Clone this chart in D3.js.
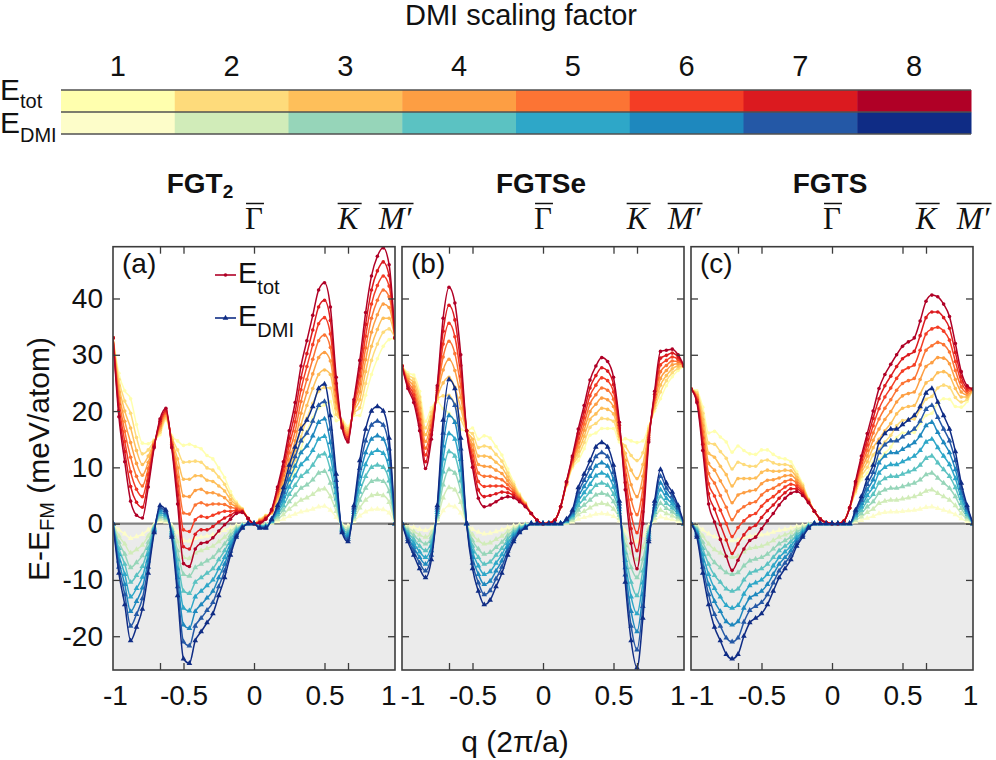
<!DOCTYPE html>
<html><head><meta charset="utf-8">
<script src="https://cdn.jsdelivr.net/npm/d3@7"></script>
<style>
body{margin:0;background:#fff;}
svg{display:block;font-family:"Liberation Sans",Arial,Helvetica,sans-serif;}
</style></head><body>
<svg id="chart" width="996" height="760"></svg>
<script>
// ---------------- data ----------------
const factors = [1, 2, 3, 4, 5, 6, 7, 8];
const totColors = ["#ffffae", "#fedb7b", "#febf5a", "#fd9e43", "#fc7434", "#f43d25", "#db1a1f", "#b00026"];
const dmiColors = ["#fdfdc9", "#d1ecb9", "#96d5b9", "#5bc2c2", "#2ea7c8", "#1e88be", "#2458a6", "#0f2c85"];
const qGrid = [-1, -0.9583, -0.9167, -0.875, -0.8333, -0.7917, -0.75, -0.7083, -0.6667, -0.625,
  -0.5833, -0.5417, -0.5, -0.4583, -0.4167, -0.375, -0.3333, -0.2917, -0.25, -0.2083,
  -0.1667, -0.125, -0.0833, -0.0417, 0, 0.0417, 0.0833, 0.125, 0.1667, 0.2083,
  0.25, 0.2917, 0.3333, 0.375, 0.4167, 0.4583, 0.5, 0.5417, 0.5833, 0.625,
  0.6667, 0.7083, 0.75, 0.7917, 0.8333, 0.875, 0.9167, 0.9583, 1];

// (a) FGT2
const totA = [
 [33,26.7,23.6,22.2,17.6,14.3,14.2,14.9,15.8,18.4, 15.6,14.7,13.9,14.1,13.7,13.3,12.1,11.5,9.9,8.2, 5.7,3.9,2.7,0.9,0,0.8,1.5,1.8,3.7,5.4, 7.4,9.6,13.3,16.4,18.8,20.5,21.1,21.7,18.3,18.4, 17.3,19.2,19.2,22.8,26.5,29.3,31.5,32.7,33],
 [33,25.6,21.8,19.6,15.3,12.4,13.1,14.7,16.2,18.7, 15.3,13.1,10.9,11.0,11.1,10.9,9.9,9.5,8.3,7.0, 5.0,3.6,2.6,0.9,0,0.7,1.4,1.9,4.1,6.2, 8.7,11.3,15.4,18.7,21.4,23.5,24.2,24.1,19.4,18.2, 16.9,19.6,20.6,24.9,29.0,31.9,34.0,34.6,33],
 [33,24.5,20.0,17.0,13.0,10.5,12.0,14.5,16.6,19.0, 15.0,11.5,7.9,7.9,8.5,8.5,7.7,7.5,6.7,5.8, 4.3,3.3,2.5,0.9,0,0.6,1.3,2.0,4.5,7.0, 10.0,13.0,17.5,21.0,24.0,26.5,27.3,26.5,20.5,18.0, 16.5,20.0,22.0,27.0,31.5,34.5,36.5,36.5,33],
 [33,23.4,18.2,14.4,10.7,8.6,10.9,14.3,17.0,19.3, 14.7,9.9,4.9,4.8,5.9,6.1,5.5,5.5,5.1,4.6, 3.6,3.0,2.4,0.9,0,0.5,1.2,2.1,4.9,7.8, 11.3,14.7,19.6,23.3,26.6,29.5,30.4,28.9,21.6,17.8, 16.1,20.4,23.4,29.1,34.0,37.1,39.0,38.4,33],
 [33,22.3,16.4,11.8,8.4,6.7,9.8,14.1,17.4,19.6, 14.4,8.3,1.9,1.7,3.3,3.7,3.3,3.5,3.5,3.4, 2.9,2.7,2.3,0.9,0,0.4,1.1,2.2,5.3,8.6, 12.6,16.4,21.7,25.6,29.2,32.5,33.5,31.3,22.7,17.6, 15.7,20.8,24.8,31.2,36.5,39.7,41.5,40.3,33],
 [33,21.2,14.6,9.2,6.1,4.8,8.7,13.9,17.8,19.9, 14.1,6.7,-1.1,-1.4,0.7,1.3,1.1,1.5,1.9,2.2, 2.2,2.4,2.2,0.9,0,0.3,1.0,2.3,5.7,9.4, 13.9,18.1,23.8,27.9,31.8,35.5,36.6,33.7,23.8,17.4, 15.3,21.2,26.2,33.3,39.0,42.3,44.0,42.2,33],
 [33,20.1,12.8,6.6,3.8,2.9,7.6,13.7,18.2,20.2, 13.8,5.1,-4.1,-4.5,-1.9,-1.1,-1.1,-0.5,0.3,1.0, 1.5,2.1,2.1,0.9,0,0.2,0.9,2.4,6.1,10.2, 15.2,19.8,25.9,30.2,34.4,38.5,39.7,36.1,24.9,17.2, 14.9,21.6,27.6,35.4,41.5,44.9,46.5,44.1,33],
 [33,19.0,11.0,4.0,1.5,1.0,6.5,13.5,18.6,20.5, 13.5,3.5,-7.1,-7.6,-4.5,-3.5,-3.3,-2.5,-1.3,-0.2, 0.8,1.8,2.0,0.9,0,0.1,0.8,2.5,6.5,11.0, 16.5,21.5,28.0,32.5,37.0,41.5,42.8,38.5,26.0,17.0, 14.5,22.0,29.0,37.5,44.0,47.5,49.0,46.0,33]
];
const dmiA = [
 [0,-1.1,-1.8,-2.6,-2.3,-1.9,-1.1,-0.2,0.4,0.3, -0.3,-1.6,-3.0,-3.1,-2.6,-2.4,-2.2,-2.0,-1.6,-1.2, -0.7,-0.3,-0.1,0,0,-0.1,-0.1,0.1,0.4,0.8, 1.3,1.7,2.1,2.3,2.6,3.0,3.1,2.4,1.1,-0.2, -0.4,0.4,1.4,2.1,2.5,2.6,2.5,1.9,0],
 [0,-2.2,-3.6,-5.2,-4.6,-3.8,-2.2,-0.4,0.8,0.6, -0.6,-3.2,-6.0,-6.2,-5.2,-4.8,-4.4,-4.0,-3.2,-2.4, -1.4,-0.6,-0.2,0,0,-0.2,-0.2,0.2,0.8,1.6, 2.6,3.4,4.2,4.6,5.2,6.0,6.2,4.8,2.2,-0.4, -0.8,0.8,2.8,4.2,5.0,5.2,5.0,3.8,0],
 [0,-3.3,-5.4,-7.8,-6.9,-5.7,-3.3,-0.6,1.2,0.9, -0.9,-4.8,-9.0,-9.3,-7.8,-7.2,-6.6,-6.0,-4.8,-3.6, -2.1,-0.9,-0.3,0,0,-0.3,-0.3,0.3,1.2,2.4, 3.9,5.1,6.3,6.9,7.8,9.0,9.3,7.2,3.3,-0.6, -1.2,1.2,4.2,6.3,7.5,7.8,7.5,5.7,0],
 [0,-4.4,-7.2,-10.4,-9.2,-7.6,-4.4,-0.8,1.6,1.2, -1.2,-6.4,-12.0,-12.4,-10.4,-9.6,-8.8,-8.0,-6.4,-4.8, -2.8,-1.2,-0.4,0,0,-0.4,-0.4,0.4,1.6,3.2, 5.2,6.8,8.4,9.2,10.4,12.0,12.4,9.6,4.4,-0.8, -1.6,1.6,5.6,8.4,10.0,10.4,10.0,7.6,0],
 [0,-5.5,-9.0,-13.0,-11.5,-9.5,-5.5,-1.0,2.0,1.5, -1.5,-8.0,-15.0,-15.5,-13.0,-12.0,-11.0,-10.0,-8.0,-6.0, -3.5,-1.5,-0.5,0,0,-0.5,-0.5,0.5,2.0,4.0, 6.5,8.5,10.5,11.5,13.0,15.0,15.5,12.0,5.5,-1.0, -2.0,2.0,7.0,10.5,12.5,13.0,12.5,9.5,0],
 [0,-6.6,-10.8,-15.6,-13.8,-11.4,-6.6,-1.2,2.4,1.8, -1.8,-9.6,-18.0,-18.6,-15.6,-14.4,-13.2,-12.0,-9.6,-7.2, -4.2,-1.8,-0.6,0,0,-0.6,-0.6,0.6,2.4,4.8, 7.8,10.2,12.6,13.8,15.6,18.0,18.6,14.4,6.6,-1.2, -2.4,2.4,8.4,12.6,15.0,15.6,15.0,11.4,0],
 [0,-7.7,-12.6,-18.2,-16.1,-13.3,-7.7,-1.4,2.8,2.1, -2.1,-11.2,-21.0,-21.7,-18.2,-16.8,-15.4,-14.0,-11.2,-8.4, -4.9,-2.1,-0.7,0,0,-0.7,-0.7,0.7,2.8,5.6, 9.1,11.9,14.7,16.1,18.2,21.0,21.7,16.8,7.7,-1.4, -2.8,2.8,9.8,14.7,17.5,18.2,17.5,13.3,0],
 [0,-8.8,-14.4,-20.8,-18.4,-15.2,-8.8,-1.6,3.2,2.4, -2.4,-12.8,-24.0,-24.8,-20.8,-19.2,-17.6,-16.0,-12.8,-9.6, -5.6,-2.4,-0.8,0,0,-0.8,-0.8,0.8,3.2,6.4, 10.4,13.6,16.8,18.4,20.8,24.0,24.8,19.2,8.8,-1.6, -3.2,3.2,11.2,16.8,20.0,20.8,20.0,15.2,0]
];

// (b) FGTSe
const totB = [
 [28,26.8,26.4,23.5,18.2,20.6,21.7,20.4,19.6,18.2, 16.7,16.5,17.0,15.0,15.6,15.2,13.7,12.2,9.7,7.4, 5.3,3.7,1.8,0.6,0,0.1,0.6,3.0,6.8,9.9, 11.2,13.3,15.7,16.1,16.9,16.9,16.9,14.5,15.1,14.7, 14.4,14.7,17.3,20.0,22.2,24.5,26.1,27.2,28],
 [28,26.4,25.7,22.5,17.0,19.8,22.1,22.7,22.8,21.2, 18.6,16.5,16.0,13.5,13.8,13.5,12.3,11.1,9.0,7.0, 5.1,3.6,1.8,0.6,0,0.1,0.6,3.0,6.9,10.2, 12.0,14.4,17.1,17.8,18.7,18.6,18.2,15.0,13.8,12.1, 11.2,12.6,16.9,20.5,23.4,25.4,26.8,27.6,28],
 [28,26.0,25.0,21.5,15.8,19.0,22.5,25.0,26.0,24.2, 20.5,16.5,15.0,12.0,12.0,11.8,10.9,10.0,8.3,6.6, 4.9,3.5,1.8,0.6,0,0.1,0.6,3.0,7.0,10.5, 12.8,15.5,18.5,19.5,20.5,20.3,19.5,15.5,12.5,9.5, 8.0,10.5,16.5,21.0,24.6,26.3,27.5,28.0,28],
 [28,25.6,24.3,20.5,14.6,18.2,22.9,27.3,29.2,27.2, 22.4,16.5,14.0,10.5,10.2,10.1,9.5,8.9,7.6,6.2, 4.7,3.4,1.8,0.6,0,0.1,0.6,3.0,7.1,10.8, 13.6,16.6,19.9,21.2,22.3,22.0,20.8,16.0,11.2,6.9, 4.8,8.4,16.1,21.5,25.8,27.2,28.2,28.4,28],
 [28,25.2,23.6,19.5,13.4,17.4,23.3,29.6,32.4,30.2, 24.3,16.5,13.0,9.0,8.4,8.4,8.1,7.8,6.9,5.8, 4.5,3.3,1.8,0.6,0,0.1,0.6,3.0,7.2,11.1, 14.4,17.7,21.3,22.9,24.1,23.7,22.1,16.5,9.9,4.3, 1.6,6.3,15.7,22.0,27.0,28.1,28.9,28.8,28],
 [28,24.8,22.9,18.5,12.2,16.6,23.7,31.9,35.6,33.2, 26.2,16.5,12.0,7.5,6.6,6.7,6.7,6.7,6.2,5.4, 4.3,3.2,1.8,0.6,0,0.1,0.6,3.0,7.3,11.4, 15.2,18.8,22.7,24.6,25.9,25.4,23.4,17.0,8.6,1.7, -1.6,4.2,15.3,22.5,28.2,29.0,29.6,29.2,28],
 [28,24.4,22.2,17.5,11.0,15.8,24.1,34.2,38.8,36.2, 28.1,16.5,11.0,6.0,4.8,5.0,5.3,5.6,5.5,5.0, 4.1,3.1,1.8,0.6,0,0.1,0.6,3.0,7.4,11.7, 16.0,19.9,24.1,26.3,27.7,27.1,24.7,17.5,7.3,-0.9, -4.8,2.1,14.9,23.0,29.4,29.9,30.3,29.6,28],
 [28,24.0,21.5,16.5,9.8,15.0,24.5,36.5,42.0,39.2, 30.0,16.5,10.0,4.5,3.0,3.3,3.9,4.5,4.8,4.6, 3.9,3.0,1.8,0.6,0,0.1,0.6,3.0,7.5,12.0, 16.8,21.0,25.5,28.0,29.5,28.8,26.0,18.0,6.0,-3.5, -8.0,0.0,14.5,23.5,30.6,30.8,31.0,30.0,28]
];
const dmiB = [
 [0,-0.4,-0.7,-1.0,-1.2,-0.8,0.4,2.3,3.2,3.0, 1.9,0,-1.0,-1.5,-1.8,-1.7,-1.4,-1.1,-0.7,-0.4, -0.2,-0.1,0,0,0,0,0,0,0.1,0.3, 0.8,1.1,1.4,1.7,1.8,1.7,1.3,0.5,-1.3,-2.6, -3.2,-2.1,-0.4,0.5,1.2,0.9,0.7,0.4,0],
 [0,-0.8,-1.4,-2.0,-2.4,-1.6,0.8,4.6,6.4,6.0, 3.8,0,-2.0,-3.0,-3.6,-3.4,-2.8,-2.2,-1.4,-0.8, -0.4,-0.2,0,0,0,0,0,0,0.2,0.6, 1.6,2.2,2.8,3.4,3.6,3.4,2.6,1.0,-2.6,-5.2, -6.4,-4.2,-0.8,1.0,2.4,1.8,1.4,0.8,0],
 [0,-1.2,-2.1,-3.0,-3.6,-2.4,1.2,6.9,9.6,9.0, 5.7,0,-3.0,-4.5,-5.4,-5.1,-4.2,-3.3,-2.1,-1.2, -0.6,-0.3,0,0,0,0,0,0,0.3,0.9, 2.4,3.3,4.2,5.1,5.4,5.1,3.9,1.5,-3.9,-7.8, -9.6,-6.3,-1.2,1.5,3.6,2.7,2.1,1.2,0],
 [0,-1.6,-2.8,-4.0,-4.8,-3.2,1.6,9.2,12.8,12.0, 7.6,0,-4.0,-6.0,-7.2,-6.8,-5.6,-4.4,-2.8,-1.6, -0.8,-0.4,0,0,0,0,0,0,0.4,1.2, 3.2,4.4,5.6,6.8,7.2,6.8,5.2,2.0,-5.2,-10.4, -12.8,-8.4,-1.6,2.0,4.8,3.6,2.8,1.6,0],
 [0,-2.0,-3.5,-5.0,-6.0,-4.0,2.0,11.5,16.0,15.0, 9.5,0,-5.0,-7.5,-9.0,-8.5,-7.0,-5.5,-3.5,-2.0, -1.0,-0.5,0,0,0,0,0,0,0.5,1.5, 4.0,5.5,7.0,8.5,9.0,8.5,6.5,2.5,-6.5,-13.0, -16.0,-10.5,-2.0,2.5,6.0,4.5,3.5,2.0,0],
 [0,-2.4,-4.2,-6.0,-7.2,-4.8,2.4,13.8,19.2,18.0, 11.4,0,-6.0,-9.0,-10.8,-10.2,-8.4,-6.6,-4.2,-2.4, -1.2,-0.6,0,0,0,0,0,0,0.6,1.8, 4.8,6.6,8.4,10.2,10.8,10.2,7.8,3.0,-7.8,-15.6, -19.2,-12.6,-2.4,3.0,7.2,5.4,4.2,2.4,0],
 [0,-2.8,-4.9,-7.0,-8.4,-5.6,2.8,16.1,22.4,21.0, 13.3,0,-7.0,-10.5,-12.6,-11.9,-9.8,-7.7,-4.9,-2.8, -1.4,-0.7,0,0,0,0,0,0,0.7,2.1, 5.6,7.7,9.8,11.9,12.6,11.9,9.1,3.5,-9.1,-18.2, -22.4,-14.7,-2.8,3.5,8.4,6.3,4.9,2.8,0],
 [0,-3.2,-5.6,-8.0,-9.6,-6.4,3.2,18.4,25.6,24.0, 15.2,0,-8.0,-12.0,-14.4,-13.6,-11.2,-8.8,-5.6,-3.2, -1.6,-0.8,0,0,0,0,0,0,0.8,2.4, 6.4,8.8,11.2,13.6,14.4,13.6,10.4,4.0,-10.4,-20.8, -25.6,-16.8,-3.2,4.0,9.6,7.2,5.6,3.2,0]
];

// (c) FGTS
const totC = [
 [23.9,23.6,20.7,16.1,16.4,15.4,14.5,12.7,13.8,13.0, 12.4,12.3,13.1,13.1,12.3,11.7,11.5,11.0,9.2,7.1, 4.4,2.2,0.8,0.2,0,0,0.4,2.8,5.4,7.8, 9.0,10.9,11.4,12.5,13.6,15.3,16.1,16.2,16.2,17.8, 19.2,19.6,21.4,22.2,22.1,20.8,20.7,21.7,23.9],
 [23.9,23.3,19.6,14.3,14.1,12.8,11.6,9.7,10.9,10.5, 10.2,10.2,11.1,11.3,10.8,10.5,10.5,10.2,8.7,6.8, 4.3,2.2,0.8,0.2,0,0,0.4,2.8,5.7,8.4, 10.0,12.2,13.2,14.5,15.7,17.4,18.3,18.5,18.6,20.4, 22.1,22.6,24.1,24.6,24.2,22.4,21.6,22.1,23.9],
 [23.9,23.0,18.5,12.5,11.8,10.2,8.7,6.7,8.0,8.0, 8.0,8.1,9.1,9.5,9.3,9.3,9.5,9.4,8.2,6.5, 4.2,2.2,0.8,0.2,0,0,0.4,2.8,6.0,9.0, 11.0,13.5,15.0,16.5,17.8,19.5,20.5,20.8,21.0,23.0, 25.0,25.6,26.8,27.0,26.3,24.0,22.5,22.5,23.9],
 [23.9,22.7,17.4,10.7,9.5,7.6,5.8,3.7,5.1,5.5, 5.8,6.0,7.1,7.7,7.8,8.1,8.5,8.6,7.7,6.2, 4.1,2.2,0.8,0.2,0,0,0.4,2.8,6.3,9.6, 12.0,14.8,16.8,18.5,19.9,21.6,22.7,23.1,23.4,25.6, 27.9,28.6,29.5,29.4,28.4,25.6,23.4,22.9,23.9],
 [23.9,22.4,16.3,8.9,7.2,5.0,2.9,0.7,2.2,3.0, 3.6,3.9,5.1,5.9,6.3,6.9,7.5,7.8,7.2,5.9, 4.0,2.2,0.8,0.2,0,0,0.4,2.8,6.6,10.2, 13.0,16.1,18.6,20.5,22.0,23.7,24.9,25.4,25.8,28.2, 30.8,31.6,32.2,31.8,30.5,27.2,24.3,23.3,23.9],
 [23.9,22.1,15.2,7.1,4.9,2.4,0.0,-2.3,-0.7,0.5, 1.4,1.8,3.1,4.1,4.8,5.7,6.5,7.0,6.7,5.6, 3.9,2.2,0.8,0.2,0,0,0.4,2.8,6.9,10.8, 14.0,17.4,20.4,22.5,24.1,25.8,27.1,27.7,28.2,30.8, 33.7,34.6,34.9,34.2,32.6,28.8,25.2,23.7,23.9],
 [23.9,21.8,14.1,5.3,2.6,-0.2,-2.9,-5.3,-3.6,-2.0, -0.8,-0.3,1.1,2.3,3.3,4.5,5.5,6.2,6.2,5.3, 3.8,2.2,0.8,0.2,0,0,0.4,2.8,7.2,11.4, 15.0,18.7,22.2,24.5,26.2,27.9,29.3,30.0,30.6,33.4, 36.6,37.6,37.6,36.6,34.7,30.4,26.1,24.1,23.9],
 [23.9,21.5,13.0,3.5,0.3,-2.8,-5.8,-8.3,-6.5,-4.5, -3.0,-2.4,-0.9,0.5,1.8,3.3,4.5,5.4,5.7,5.0, 3.7,2.2,0.8,0.2,0,0,0.4,2.8,7.5,12.0, 16.0,20.0,24.0,26.5,28.3,30.0,31.5,32.3,33.0,36.0, 39.5,40.6,40.3,39.0,36.8,32.0,27.0,24.5,23.9]
];
const dmiC = [
 [0,-0.3,-1.1,-1.8,-2.3,-2.6,-2.9,-3.0,-2.9,-2.5, -2.2,-2.1,-2.0,-1.8,-1.5,-1.2,-1.0,-0.8,-0.5,-0.3, -0.1,0,0,0,0,0,0,0,0.3,0.6, 1.0,1.3,1.8,2.0,2.1,2.1,2.2,2.3,2.4,2.6, 2.9,3.0,2.7,2.4,2.1,1.6,0.9,0.4,0],
 [0,-0.6,-2.2,-3.6,-4.6,-5.2,-5.8,-6.0,-5.8,-5.0, -4.4,-4.2,-4.0,-3.6,-3.0,-2.4,-2.0,-1.6,-1.0,-0.6, -0.2,0,0,0,0,0,0,0,0.6,1.2, 2.0,2.6,3.6,4.0,4.2,4.2,4.4,4.6,4.8,5.2, 5.8,6.0,5.4,4.8,4.2,3.2,1.8,0.8,0],
 [0,-0.9,-3.3,-5.4,-6.9,-7.8,-8.7,-9.0,-8.7,-7.5, -6.6,-6.3,-6.0,-5.4,-4.5,-3.6,-3.0,-2.4,-1.5,-0.9, -0.3,0,0,0,0,0,0,0,0.9,1.8, 3.0,3.9,5.4,6.0,6.3,6.3,6.6,6.9,7.2,7.8, 8.7,9.0,8.1,7.2,6.3,4.8,2.7,1.2,0],
 [0,-1.2,-4.4,-7.2,-9.2,-10.4,-11.6,-12.0,-11.6,-10.0, -8.8,-8.4,-8.0,-7.2,-6.0,-4.8,-4.0,-3.2,-2.0,-1.2, -0.4,0,0,0,0,0,0,0,1.2,2.4, 4.0,5.2,7.2,8.0,8.4,8.4,8.8,9.2,9.6,10.4, 11.6,12.0,10.8,9.6,8.4,6.4,3.6,1.6,0],
 [0,-1.5,-5.5,-9.0,-11.5,-13.0,-14.5,-15.0,-14.5,-12.5, -11.0,-10.5,-10.0,-9.0,-7.5,-6.0,-5.0,-4.0,-2.5,-1.5, -0.5,0,0,0,0,0,0,0,1.5,3.0, 5.0,6.5,9.0,10.0,10.5,10.5,11.0,11.5,12.0,13.0, 14.5,15.0,13.5,12.0,10.5,8.0,4.5,2.0,0],
 [0,-1.8,-6.6,-10.8,-13.8,-15.6,-17.4,-18.0,-17.4,-15.0, -13.2,-12.6,-12.0,-10.8,-9.0,-7.2,-6.0,-4.8,-3.0,-1.8, -0.6,0,0,0,0,0,0,0,1.8,3.6, 6.0,7.8,10.8,12.0,12.6,12.6,13.2,13.8,14.4,15.6, 17.4,18.0,16.2,14.4,12.6,9.6,5.4,2.4,0],
 [0,-2.1,-7.7,-12.6,-16.1,-18.2,-20.3,-21.0,-20.3,-17.5, -15.4,-14.7,-14.0,-12.6,-10.5,-8.4,-7.0,-5.6,-3.5,-2.1, -0.7,0,0,0,0,0,0,0,2.1,4.2, 7.0,9.1,12.6,14.0,14.7,14.7,15.4,16.1,16.8,18.2, 20.3,21.0,18.9,16.8,14.7,11.2,6.3,2.8,0],
 [0,-2.4,-8.8,-14.4,-18.4,-20.8,-23.2,-24.0,-23.2,-20.0, -17.6,-16.8,-16.0,-14.4,-12.0,-9.6,-8.0,-6.4,-4.0,-2.4, -0.8,0,0,0,0,0,0,0,2.4,4.8, 8.0,10.4,14.4,16.0,16.8,16.8,17.6,18.4,19.2,20.8, 23.2,24.0,21.6,19.2,16.8,12.8,7.2,3.2,0]
];

const panelTitles = ["FGT", "FGTSe", "FGTS"];
const panelSubs = ["2", "", ""];
const panelLetters = ["(a)", "(b)", "(c)"];
const yTickValues = [-20, -10, 0, 10, 20, 30, 40];
const xTickMarks = [-0.6667, -0.5, 0, 0.5, 0.6667];
const xTickLabels = [-1, -0.5, 0, 0.5, 1];
const symLabels = [{q: 0, main: "Γ", italic: false}, {q: 0.6667, main: "K", italic: true}, {q: 1, main: "M′", italic: true}];

// ---------------- layout ----------------
const svg = d3.select("#chart");
const defs = svg.append("defs");
const panelX0 = [113, 402, 691];
const panelW = 282;
const yTop = 246.7, yBot = 670;
const titleX = [200, 541, 830];
const y = d3.scaleLinear().domain([-26, 49.2]).range([yBot, yTop]);
const frameColor = "#3c3c3c";
const txtColor = "#111";

// colorbar
const cbX0 = 61, cbX1 = 971, cbRowTop = [90, 112], cbRowH = 22;
const cbx = d3.scaleBand().domain(factors).range([cbX0, cbX1]).padding(0);
svg.append("text").attr("x", 521).attr("y", 25).attr("text-anchor", "middle")
  .attr("font-size", 29).attr("fill", txtColor).text("DMI scaling factor");
svg.append("g").selectAll("text").data(factors).join("text")
  .attr("x", d => cbx(d) + cbx.bandwidth() / 2).attr("y", 76)
  .attr("text-anchor", "middle").attr("font-size", 29).attr("fill", txtColor).text(d => d);
[totColors, dmiColors].forEach((cols, r) => {
  svg.append("g").selectAll("rect").data(factors).join("rect")
    .attr("x", d => cbx(d)).attr("y", cbRowTop[r]).attr("width", cbx.bandwidth() + 0.5).attr("height", cbRowH)
    .attr("fill", (d, i) => cols[i]);
});
[90, 112, 134].forEach(yy => svg.append("line").attr("x1", cbX0).attr("x2", cbX1).attr("y1", yy).attr("y2", yy)
  .attr("stroke", "#505050").attr("stroke-width", 1.5));
function subText(parent, x, yb, main, sub, size, subSize, dy, anchor) {
  const t = parent.append("text").attr("x", x).attr("y", yb).attr("font-size", size).attr("fill", txtColor)
    .attr("text-anchor", anchor || "start");
  t.append("tspan").text(main);
  t.append("tspan").attr("font-size", subSize).attr("dy", dy).text(sub);
  return t;
}
subText(svg, 0, 100, "E", "tot", 30, 20, 8);
subText(svg, 0, 133, "E", "DMI", 30, 20, 9);

// panels
const panels = [
  {tot: totA, dmi: dmiA},
  {tot: totB, dmi: dmiB},
  {tot: totC, dmi: dmiC}
];
const tri = d3.symbol().type(d3.symbolTriangle).size(14);

panels.forEach((p, pi) => {
  const x0 = panelX0[pi], x1 = x0 + panelW;
  const x = d3.scaleLinear().domain([-1, 1]).range([x0, x1]);
  const g = svg.append("g");
  const cid = "clip" + pi;
  defs.append("clipPath").attr("id", cid).append("rect")
    .attr("x", x0).attr("y", yTop).attr("width", panelW).attr("height", yBot - yTop);

  g.append("rect").attr("x", x0).attr("y", yTop).attr("width", panelW).attr("height", yBot - yTop).attr("fill", "#fff");
  g.append("rect").attr("x", x0).attr("y", y(0)).attr("width", panelW).attr("height", yBot - y(0)).attr("fill", "#ebebeb");
  g.append("line").attr("x1", x0).attr("x2", x1).attr("y1", y(0)).attr("y2", y(0))
    .attr("stroke", "#808080").attr("stroke-width", 2.2);

  const plot = g.append("g").attr("clip-path", `url(#${cid})`);
  const line = d3.line().x((d, i) => x(qGrid[i])).y(d => y(d)).curve(d3.curveMonotoneX);
  factors.forEach((f, k) => {
    // E_tot
    const gt = plot.append("g");
    gt.append("path").attr("d", line(p.tot[k])).attr("fill", "none")
      .attr("stroke", totColors[k]).attr("stroke-width", 1.5);
    gt.selectAll("circle").data(p.tot[k]).join("circle")
      .attr("cx", (d, i) => x(qGrid[i])).attr("cy", d => y(d)).attr("r", 1.8).attr("fill", totColors[k]);
    // E_DMI
    const gd = plot.append("g");
    gd.append("path").attr("d", line(p.dmi[k])).attr("fill", "none")
      .attr("stroke", dmiColors[k]).attr("stroke-width", 1.5);
    gd.selectAll("path.m").data(p.dmi[k]).join("path").attr("class", "m")
      .attr("transform", (d, i) => `translate(${x(qGrid[i])},${y(d)})`).attr("d", tri).attr("fill", dmiColors[k]);
  });

  // axes (ticks inside)
  const styleAxis = sel => { sel.select(".domain").remove(); sel.selectAll("line").attr("stroke", frameColor).attr("stroke-width", 1.3); };
  g.append("g").attr("transform", `translate(0,${yBot})`)
    .call(d3.axisBottom(x).tickValues(xTickMarks).tickSizeInner(-7).tickSizeOuter(0).tickFormat(""))
    .call(styleAxis);
  g.append("g").attr("transform", `translate(0,${yTop})`)
    .call(d3.axisTop(x).tickValues(xTickMarks).tickSizeInner(-7).tickSizeOuter(0).tickFormat(""))
    .call(styleAxis);
  g.append("g").attr("transform", `translate(${x1},0)`)
    .call(d3.axisRight(y).tickValues(yTickValues).tickSizeInner(-7).tickSizeOuter(0).tickFormat(""))
    .call(styleAxis);
  const ly = g.append("g").attr("transform", `translate(${x0},0)`)
    .call(d3.axisLeft(y).tickValues(yTickValues).tickSizeInner(-7).tickSizeOuter(0).tickPadding(10)
      .tickFormat(pi === 0 ? (d => String(d)) : ""))
    .call(styleAxis);
  ly.selectAll("text").attr("font-size", 28).attr("fill", txtColor).attr("font-family", null);

  const lx = g.append("g").attr("transform", `translate(0,${yBot})`)
    .call(d3.axisBottom(x).tickValues(xTickLabels).tickSize(0).tickPadding(15).tickFormat(d => String(d)));
  lx.select(".domain").remove();
  lx.selectAll("text").attr("font-size", 28).attr("fill", txtColor).attr("font-family", null)
    .attr("text-anchor", d => d === -1 ? (pi === 0 ? "middle" : "start") : (d === 1 ? (pi === 2 ? "middle" : "end") : "middle"))
    .attr("dx", d => d === -1 ? (pi === 0 ? 2 : -2) : (d === 1 ? (pi === 2 ? -3 : 1) : 0));

  g.append("rect").attr("x", x0).attr("y", yTop).attr("width", panelW).attr("height", yBot - yTop)
    .attr("fill", "none").attr("stroke", frameColor).attr("stroke-width", 1.6);

  // panel letter
  g.append("text").attr("x", x0 + 9).attr("y", 273).attr("font-size", 28).attr("fill", txtColor).text(panelLetters[pi]);

  // title
  const tt = g.append("text").attr("x", titleX[pi]).attr("y", 193).attr("text-anchor", "middle")
    .attr("font-size", 28).attr("font-weight", "bold").attr("fill", txtColor);
  tt.append("tspan").text(panelTitles[pi]);
  if (panelSubs[pi]) tt.append("tspan").attr("font-size", 19).attr("dy", 5).text(panelSubs[pi]);

  // high symmetry labels with overline
  symLabels.forEach(s => {
    const t = g.append("text").attr("x", x(s.q)).attr("y", 229).attr("text-anchor", "middle")
      .attr("font-family", "'Liberation Serif','DejaVu Serif',serif").attr("font-size", 31)
      .attr("font-style", s.italic ? "italic" : "normal").attr("fill", txtColor).text(s.main);
    const bb = t.node().getBBox();
    g.append("line").attr("x1", bb.x + 1).attr("x2", bb.x + bb.width + 1).attr("y1", 203.5).attr("y2", 203.5)
      .attr("stroke", txtColor).attr("stroke-width", 1.5);
  });
});

// legend in panel (a)
const lg = svg.append("g");
lg.append("line").attr("x1", 215).attr("x2", 236).attr("y1", 275).attr("y2", 275).attr("stroke", totColors[7]).attr("stroke-width", 1.6);
lg.append("circle").attr("cx", 225.5).attr("cy", 275).attr("r", 1.8).attr("fill", totColors[7]);
subText(lg, 238, 283, "E", "tot", 29, 20, 11);
lg.append("line").attr("x1", 215).attr("x2", 236).attr("y1", 318).attr("y2", 318).attr("stroke", dmiColors[7]).attr("stroke-width", 1.6);
lg.append("path").attr("transform", "translate(225.5,318)").attr("d", tri).attr("fill", dmiColors[7]);
subText(lg, 238, 326, "E", "DMI", 29, 20, 11);

// axis labels
svg.append("text").attr("x", 515).attr("y", 752).attr("text-anchor", "middle").attr("font-size", 30)
  .attr("fill", txtColor).text("q (2π/a)");
const yl = svg.append("text").attr("transform", "translate(49,459) rotate(-90)").attr("text-anchor", "middle")
  .attr("font-size", 30).attr("fill", txtColor);
yl.append("tspan").text("E-E");
yl.append("tspan").attr("font-size", 20).attr("dy", 5).text("FM");
yl.append("tspan").attr("dy", -5).text(" (meV/atom)");
</script>
</body></html>
